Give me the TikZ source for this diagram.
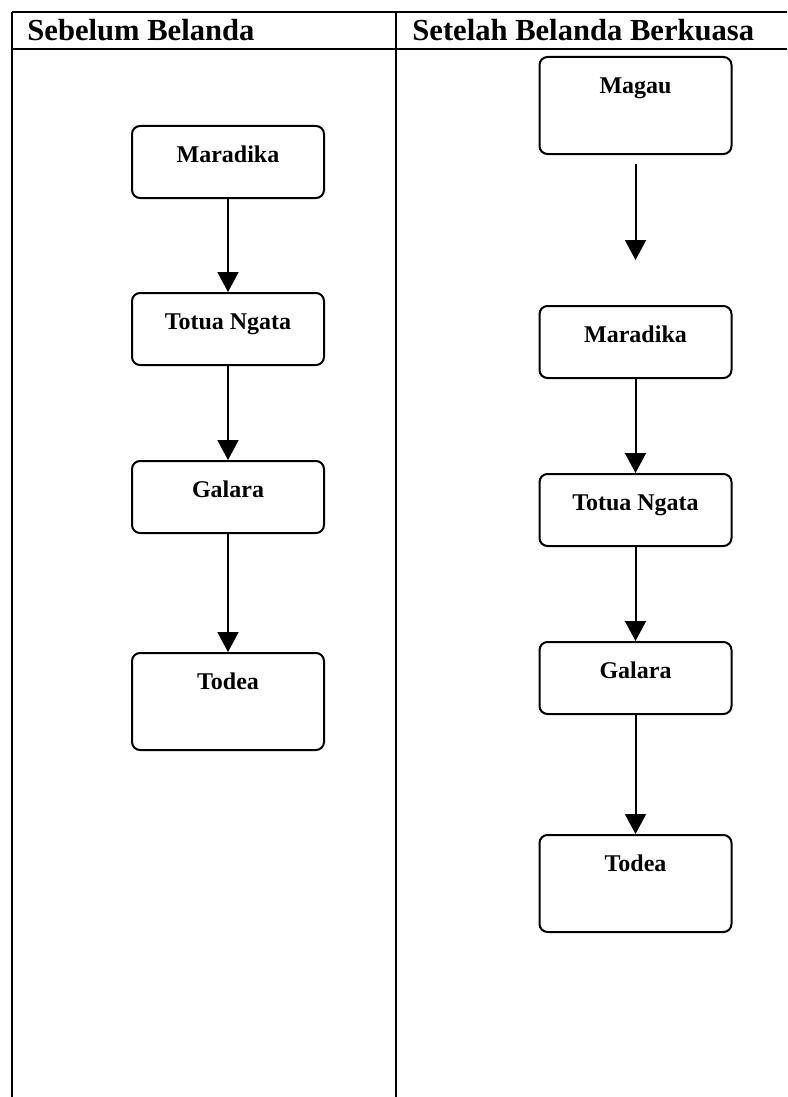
\documentclass[tikz,border=0pt]{standalone}
\usepackage{fontspec}
\setmainfont{Liberation Serif}
\usepackage{tikz}
\usetikzlibrary{positioning}
\usetikzlibrary{arrows.meta}

\tikzset{
  kotak/.style={draw, line width=1pt, rounded corners=4pt, minimum width=96pt, inner sep=0pt,
    text height=18.25pt, text depth=17.75pt, font=\fontsize{12}{14}\selectfont\bfseries, anchor=north},
  kotaktinggi/.style={kotak, text depth=30.25pt},
  panah/.style={line width=1pt, -{Triangle[width=10.5pt,length=10pt]}},
  judul/.style={anchor=base west, inner sep=0pt, font=\fontsize{15.3}{18}\selectfont\bfseries}
}

\begin{document}
\begin{tikzpicture}[x=0.5pt, y=-0.5pt]

\useasboundingbox (0,0) rectangle (787,1097);

% tabel
\draw[line width=0.9pt] (12,12) -- (787,12);
\draw[line width=0.8pt] (12,49) -- (787,49);
\draw[line width=0.9pt] (12,12) -- (12,1097);
\draw[line width=0.9pt] (396,12) -- (396,1097);

\node[judul] (judulkiri) at (27,41) {Sebelum Belanda};
\node[judul] (judulkanan) at (412,41) {Setelah Belanda Berkuasa};


\begin{scope}
{
% sebelum Belanda
\node[kotak] (maradika1) at (228,125) {Maradika};
\node[kotak] (totua1) at (228,292) {Totua Ngata};
\node[kotak] (galara1) at (228,460) {Galara};
\node[kotaktinggi] (todea1) at (228,652) {Todea};

\draw[panah] (maradika1) -- (totua1);
\draw[panah] (totua1) -- (galara1);
\draw[panah] (galara1) -- (todea1);
}
\end{scope}


\begin{scope}
{
% setelah Belanda berkuasa
\node[kotaktinggi] (magau2) at (635.5,56) {Magau};
\node[kotak] (maradika2) at (635.5,305) {Maradika};
\node[kotak] (totua2) at (635.5,473) {Totua Ngata};
\node[kotak] (galara2) at (635.5,641) {Galara};
\node[kotaktinggi] (todea2) at (635.5,834) {Todea};

\coordinate[below=4.5pt of magau2] (magauawal);
\coordinate[below=48pt of magauawal] (magauujung);

\draw[panah] (magauawal) -- (magauujung);
\draw[panah] (maradika2) -- (totua2);
\draw[panah] (totua2) -- (galara2);
\draw[panah] (galara2) -- (todea2);
}
\end{scope}

\end{tikzpicture}
\end{document}
